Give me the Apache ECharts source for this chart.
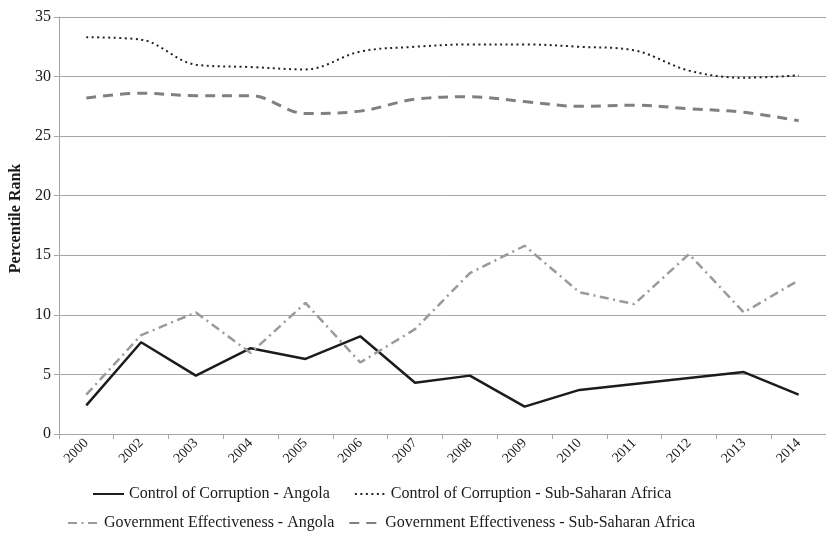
<!DOCTYPE html>
<html>
<head>
<meta charset="utf-8">
<script src="https://cdn.jsdelivr.net/npm/echarts@6/dist/echarts.min.js"></script>
<style>
  html, body { margin: 0; padding: 0; background: #ffffff; }
  #chart { width: 826px; height: 538px; }
</style>
</head>
<body>
<div id="chart"></div>
<script>
// Survey years (2001 was not collected)
const years = ['2000', '2002', '2003', '2004', '2005', '2006', '2007',
               '2008', '2009', '2010', '2011', '2012', '2013', '2014'];

// Percentile ranks
const corruptionAngola = [2.4, 7.7, 4.9, 7.2, 6.3, 8.2, 4.3, 4.9, 2.3, 3.7, 4.2, 4.7, 5.2, 3.3];
const corruptionSSA    = [33.3, 33.1, 31.0, 30.8, 30.6, 32.1, 32.5, 32.7, 32.7, 32.5, 32.2, 30.5, 29.9, 30.1];
const effectAngola     = [3.3, 8.3, 10.2, 6.8, 11.0, 6.0, 8.8, 13.5, 15.8, 11.9, 10.9, 15.1, 10.2, 12.9];
const effectSSA        = [28.2, 28.6, 28.4, 28.4, 26.9, 27.1, 28.1, 28.3, 27.9, 27.5, 27.6, 27.3, 27.0, 26.3];

const seriesNames = [
  'Control of Corruption - Angola',
  'Control of Corruption - Sub-Saharan Africa',
  'Government Effectiveness - Angola',
  'Government Effectiveness - Sub-Saharan Africa'
];

const serif = '"Liberation Serif", "Times New Roman", serif';
const axisGray = '#a6a6a6';

const chart = echarts.init(document.getElementById('chart'), null, { renderer: 'canvas' });

const legendText = { fontFamily: serif, fontSize: 16, color: '#1a1a1a' };
// legend keys show only the line pattern, no marker
const legendBase = {
  padding: 0,
  itemWidth: 31, itemHeight: 14,
  itemStyle: { opacity: 0 },
  textStyle: legendText
};

chart.setOption({
  animation: false,
  backgroundColor: '#ffffff',
  grid: { left: 53, top: 17, width: 776, height: 417, containLabel: false },
  legend: [
    Object.assign({
      data: [seriesNames[0], seriesNames[1]],
      left: 92, top: 486, itemGap: 24
    }, legendBase),
    Object.assign({
      data: [seriesNames[2], seriesNames[3]],
      left: 67, top: 515, itemGap: 14
    }, legendBase)
  ],
  xAxis: {
    type: 'category',
    data: years,
    boundaryGap: true,
    axisLine: { lineStyle: { color: axisGray, width: 1 } },
    axisTick: { show: true, length: 5, alignWithLabel: false, lineStyle: { color: axisGray } },
    axisLabel: {
      interval: 0, rotate: 45, margin: 7,
      fontFamily: serif, fontSize: 14, color: '#1a1a1a'
    },
    splitLine: { show: false }
  },
  yAxis: {
    type: 'value',
    min: 0, max: 35, interval: 5,
    name: 'Percentile Rank',
    nameLocation: 'middle',
    nameGap: 34,
    nameTextStyle: {
      fontFamily: serif, fontSize: 16, fontWeight: 'bold', color: '#1a1a1a',
      padding: [0, 0, 0, 14]
    },
    axisLine: { show: true, lineStyle: { color: axisGray, width: 1 } },
    axisTick: { show: true, length: 5, lineStyle: { color: axisGray } },
    axisLabel: { margin: 8, fontFamily: serif, fontSize: 16, color: '#1a1a1a' },
    splitLine: { show: true, lineStyle: { color: axisGray, width: 1 } }
  },
  series: [
    {
      name: seriesNames[0], type: 'line', data: corruptionAngola,
      symbol: 'none', smooth: false,
      color: '#1c1c1c',
      lineStyle: { color: '#1c1c1c', width: 2.5, type: 'solid' }
    },
    {
      name: seriesNames[1], type: 'line', data: corruptionSSA,
      symbol: 'none', smooth: 0.35,
      color: '#222222',
      lineStyle: { color: '#222222', width: 2, type: [2, 3.5] }
    },
    {
      name: seriesNames[2], type: 'line', data: effectAngola,
      symbol: 'none', smooth: false,
      color: '#9a9a9a',
      lineStyle: { color: '#9a9a9a', width: 2.5, type: [9, 4.5, 2, 4.5] }
    },
    {
      name: seriesNames[3], type: 'line', data: effectSSA,
      symbol: 'none', smooth: 0.35,
      color: '#808080',
      lineStyle: { color: '#808080', width: 3, type: [10, 7] }
    }
  ]
});
</script>
</body>
</html>
